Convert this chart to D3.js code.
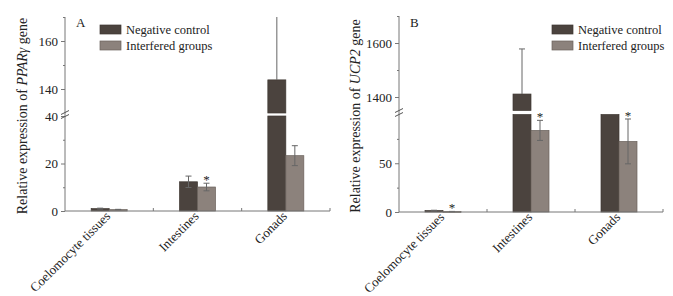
<!DOCTYPE html>
<html><head><meta charset="utf-8">
<script src="https://cdn.jsdelivr.net/npm/d3@7/dist/d3.min.js"></script>
<style>
body{margin:0;background:#fff;}
svg{display:block;}
text{font-family:"Liberation Serif","Times New Roman",serif;fill:#222;}
</style></head>
<body>
<svg id="c" width="673" height="296"></svg>
<script>
const categories = ["Coelomocyte tissues","Intestines","Gonads"];
const series = ["Negative control","Interfered groups"];
// Panel A: PPARγ
const pparNC = [1.0, 12.3, 143.8];
const pparNCerr = [0.2, 2.4, 30];
const pparIG = [0.6, 10.1, 23.3];
const pparIGerr = [0.1, 1.6, 4.2];
const pparStar = [false, true, false];
const pparLowTicks = [0, 20, 40], pparLowMinor = [10, 30];
const pparUpTicks = [140, 160], pparUpMinor = [150, 170];
// Panel B: UCP2
const ucpNC = [1.5, 1411, 100];
const ucpNCerr = [0.3, 167, 0];
const ucpIG = [0.5, 83.7, 72.4];
const ucpIGerr = [0.1, 10.3, 23];
const ucpStar = [true, true, true];
const ucpLowTicks = [0, 50], ucpLowMinor = [25, 75];
const ucpUpTicks = [1400, 1600], ucpUpMinor = [1500, 1700];

const svg = d3.select("#c");
const colors = ["#4b433e", "#8c827c"];
const strokes = ["#3f3833", "#6a625c"];
const axisColor = "#777";
const FONT = '"Liberation Serif","Times New Roman",serif';

function panel(cfg){
  const g = svg.append("g");
  const ax = cfg.axisX;
  const yLow = d3.scaleLinear().domain(cfg.lowDomain).range(cfg.lowRange);
  const yUp = d3.scaleLinear().domain(cfg.upDomain).range(cfg.upRange);
  const x0 = d3.scaleBand().domain(categories).range(cfg.xRange).padding(0);
  const bw = 18;
  const x1 = d3.scaleBand().domain(series).range([x0.bandwidth()/2 - bw, x0.bandwidth()/2 + bw]);
  const y0 = yLow(0);

  const data = [];
  categories.forEach((c,i)=>{
    data.push({c, s:series[0], v:cfg.nc[i], e:cfg.ncErr[i], star:false, k:0});
    data.push({c, s:series[1], v:cfg.ig[i], e:cfg.igErr[i], star:cfg.star[i], k:1});
  });
  const lmax = cfg.lowDomain[1], umin = cfg.upDomain[0], umax = cfg.upDomain[1];
  data.forEach(d=>{
    const xb = x0(d.c) + x1(d.s);
    const segs = [];
    if (d.v <= lmax) segs.push([yLow(d.v), y0]);
    else {
      segs.push([yLow(lmax), y0]);
      if (d.v > umin) segs.push([yUp(Math.min(d.v, umax)), yUp(umin)]);
    }
    segs.forEach(s=>{
      g.append("rect").attr("x", xb).attr("y", s[0]).attr("width", bw).attr("height", Math.max(0.8, s[1]-s[0]))
        .attr("fill", colors[d.k]).attr("stroke", strokes[d.k]).attr("stroke-width", 0.7);
    });
    const cx = xb + bw/2;
    let topY;
    if (d.e > 0){
      if (d.v > lmax){
        const tv = d.v + d.e;
        const yt = yUp(Math.min(tv, umax));
        g.append("line").attr("x1",cx).attr("x2",cx).attr("y1",yt).attr("y2",yUp(d.v)).attr("stroke","#666").attr("stroke-width",1);
        if (tv <= umax) g.append("line").attr("x1",cx-3).attr("x2",cx+3).attr("y1",yt).attr("y2",yt).attr("stroke","#666");
        topY = yt;
      } else {
        const yt = yLow(d.v + d.e), yb = yLow(Math.max(0, d.v - d.e));
        g.append("line").attr("x1",cx).attr("x2",cx).attr("y1",yt).attr("y2",yb).attr("stroke","#666").attr("stroke-width",1);
        [yt, yb].forEach(yy=>g.append("line").attr("x1",cx-3).attr("x2",cx+3).attr("y1",yy).attr("y2",yy).attr("stroke","#666"));
        topY = yt;
      }
    } else topY = d.v > lmax ? yUp(Math.min(d.v, umax)) : yLow(d.v);
    if (d.star){
      g.append("text").attr("x", cx).attr("y", topY + 1).attr("text-anchor","middle")
        .style("font-size","13px").text("*");
    }
  });

  g.append("line").attr("x1",ax).attr("x2",ax).attr("y1",y0).attr("y2",cfg.upRange[1]).attr("stroke",axisColor).attr("stroke-width",1);
  const mk = (scale, vals, size, fmt)=>{
    const a = d3.axisLeft(scale).tickValues(vals).tickSize(size).tickPadding(3)
      .tickFormat(fmt ? d3.format("d") : "");
    const ag = g.append("g").attr("transform",`translate(${ax},0)`).call(a);
    ag.select(".domain").remove();
    ag.selectAll("line").attr("stroke",axisColor);
    ag.selectAll("text").style("font-size","13px").style("font-family",FONT).attr("fill","#222");
  };
  mk(yLow, cfg.lowTicks, 4, true);
  mk(yLow, cfg.lowMinor, 2, false);
  mk(yUp, cfg.upTicks, 4, true);
  mk(yUp, cfg.upMinor, 2, false);
  const yb = (yLow(lmax) + yUp(umin))/2;
  [-2, 2].forEach(o=>{
    g.append("line").attr("x1",ax-4).attr("x2",ax+4).attr("y1",yb+o+2).attr("y2",yb+o-2)
      .attr("stroke","#555").attr("stroke-width",1);
  });

  const xr = x0.range();
  g.append("line").attr("x1",xr[0]).attr("x2",xr[1]).attr("y1",y0).attr("y2",y0).attr("stroke",axisColor);
  const tickXs = categories.slice(1).map(c=>x0(c)).concat([xr[1]]);
  tickXs.forEach(tx=>g.append("line").attr("x1",tx).attr("x2",tx).attr("y1",y0).attr("y2",y0-3).attr("stroke",axisColor));
  categories.forEach(c=>{
    const cx = x0(c) + x0.bandwidth()/2;
    g.append("text").attr("transform",`translate(${cx+2},${y0+6}) rotate(-45)`)
      .attr("text-anchor","end").style("font-size","13px").text(c);
  });

  g.append("text").attr("x", ax+11).attr("y", 27).style("font-size","13px").text(cfg.letter);

  series.forEach((s,i)=>{
    const ly = 25 + i*16;
    g.append("rect").attr("x",cfg.legX).attr("y",ly).attr("width",21).attr("height",9)
      .attr("fill",colors[i]).attr("stroke",strokes[i]).attr("stroke-width",0.7);
    g.append("text").attr("x",cfg.legX+26).attr("y",ly+9).style("font-size","12.5px").text(s);
  });

  const midY = (y0 + cfg.upRange[1])/2 + 2;
  const t = g.append("text").attr("transform",`translate(${cfg.labX},${midY}) rotate(-90)`)
    .attr("text-anchor","middle").style("font-size","14px");
  t.append("tspan").text("Relative expression of ");
  t.append("tspan").style("font-style","italic").text(cfg.gene);
  t.append("tspan").text(" gene");
}

panel({letter:"A", gene:"PPARγ", axisX:65, xRange:[65,330],
  lowDomain:[0,40], lowRange:[211,116], upDomain:[130,170], upRange:[113,17],
  nc:pparNC, ncErr:pparNCerr, ig:pparIG, igErr:pparIGerr, star:pparStar,
  lowTicks:pparLowTicks, lowMinor:pparLowMinor, upTicks:pparUpTicks, upMinor:pparUpMinor,
  legX:100, labX:27});
panel({letter:"B", gene:"UCP2", axisX:399, xRange:[399,663],
  lowDomain:[0,100], lowRange:[212,114.5], upDomain:[1350,1700], upRange:[110.5,16],
  nc:ucpNC, ncErr:ucpNCerr, ig:ucpIG, igErr:ucpIGerr, star:ucpStar,
  lowTicks:ucpLowTicks, lowMinor:ucpLowMinor, upTicks:ucpUpTicks, upMinor:ucpUpMinor,
  legX:552, labX:360});
</script>
</body></html>
